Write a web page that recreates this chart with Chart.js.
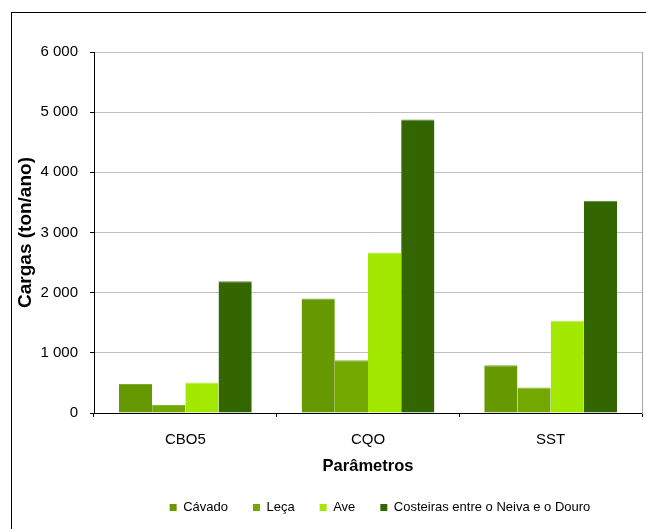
<!DOCTYPE html>
<html>
<head>
<meta charset="utf-8">
<script src="https://cdn.jsdelivr.net/npm/chart.js@4/dist/chart.umd.min.js"></script>
<style>
  html, body { margin: 0; padding: 0; background: #fff; overflow: hidden; }
  #wrap { width: 646px; height: 529px; overflow: hidden; position: relative; }
  canvas { display: block; }
</style>
</head>
<body>
<div id="wrap"><canvas id="c" width="760" height="529"></canvas></div>
<script>
const categories = ['CBO5', 'CQO', 'SST'];
const seriesNames = ['Cávado', 'Leça', 'Ave', 'Costeiras entre o Neiva e o Douro'];
const cavado = [483, 1905, 795];
const leca = [133, 878, 422];
const ave = [505, 2667, 1533];
const costeiras = [2188, 4878, 3528];
const yTickValues = [0, 1000, 2000, 3000, 4000, 5000, 6000];
const xTitle = 'Parâmetros';
const yTitle = 'Cargas (ton/ano)';

const colors = ['#669900', '#72a800', '#a2e800', '#336600'];
const edgeColors = ['#7aa833', '#85b733', '#b5ed4d', '#5c8540'];
const FONT = "'Liberation Sans', Arial, sans-serif";

function fmt(v) {
  return String(v).replace(/\B(?=(\d{3})+(?!\d))/g, ' ');
}

const frame = {
  id: 'frame',
  beforeDraw(chart) {
    const ctx = chart.ctx;
    ctx.save();
    ctx.fillStyle = '#fff';
    ctx.fillRect(0, 0, chart.width, chart.height);
    ctx.strokeStyle = '#000';
    ctx.lineWidth = 1;
    ctx.strokeRect(11.5, 12.5, 737, 600);
    ctx.restore();
  }
};

const seriesData = [cavado, leca, ave, costeiras];

new Chart(document.getElementById('c'), {
  type: 'bar',
  data: {
    labels: categories,
    datasets: seriesNames.map((n, i) => ({
      label: n,
      data: seriesData[i],
      backgroundColor: colors[i],
      borderColor: edgeColors[i],
      borderWidth: { top: 1, left: 0, right: 0, bottom: 0 },
      categoryPercentage: 0.727,
      barPercentage: 1.0,
      yAxisID: 'y'
    }))
  },
  options: {
    responsive: false,
    animation: false,
    devicePixelRatio: 1,
    layout: { padding: { left: 11, right: 11, top: 52, bottom: 5 } },
    plugins: {
      tooltip: { enabled: false },
      legend: {
        position: 'bottom',
        labels: {
          boxWidth: 7,
          boxHeight: 7,
          padding: 25,
          color: '#000',
          font: { family: FONT, size: 13 },
          useBorderRadius: false,
          generateLabels: chart => chart.data.datasets.map((d, i) => ({
            text: d.label,
            fillStyle: colors[i],
            strokeStyle: colors[i],
            lineWidth: 0,
            hidden: false,
            datasetIndex: i,
            fontColor: '#000'
          }))
        }
      }
    },
    scales: {
      x: {
        afterFit: s => { s.height = 63; },
        grid: {
          display: true,
          drawOnChartArea: false,
          offset: true,
          tickLength: 4,
          tickColor: '#000'
        },
        border: { color: '#000', width: 1 },
        ticks: { color: '#000', padding: 14, font: { family: FONT, size: 15 } },
        title: {
          display: true,
          text: xTitle,
          color: '#000',
          padding: { top: 0, bottom: 0 },
          font: { family: FONT, size: 16.5, weight: 'bold' }
        }
      },
      y: {
        position: 'left',
        min: 0,
        max: 6000,
        afterFit: s => { s.width = 83; },
        afterBuildTicks: s => { s.ticks = yTickValues.map(v => ({ value: v })); },
        grid: {
          color: '#c0c0c0',
          lineWidth: 1,
          tickLength: 4,
          tickColor: '#000'
        },
        border: { color: '#000', width: 1 },
        ticks: {
          color: '#000',
          padding: 12,
          font: { family: FONT, size: 15 },
          callback: v => fmt(v)
        },
        title: {
          display: true,
          text: yTitle,
          color: '#000',
          padding: { top: 3, bottom: 0 },
          font: { family: FONT, size: 19, weight: 'bold' }
        }
      },
      y2: {
        position: 'right',
        min: 0,
        max: 6000,
        afterFit: s => { s.width = 107; },
        grid: { display: false, drawTicks: false },
        border: { display: true, color: '#a6a6a6', width: 1 },
        ticks: { display: false }
      }
    }
  },
  plugins: [frame]
});
</script>
</body>
</html>
